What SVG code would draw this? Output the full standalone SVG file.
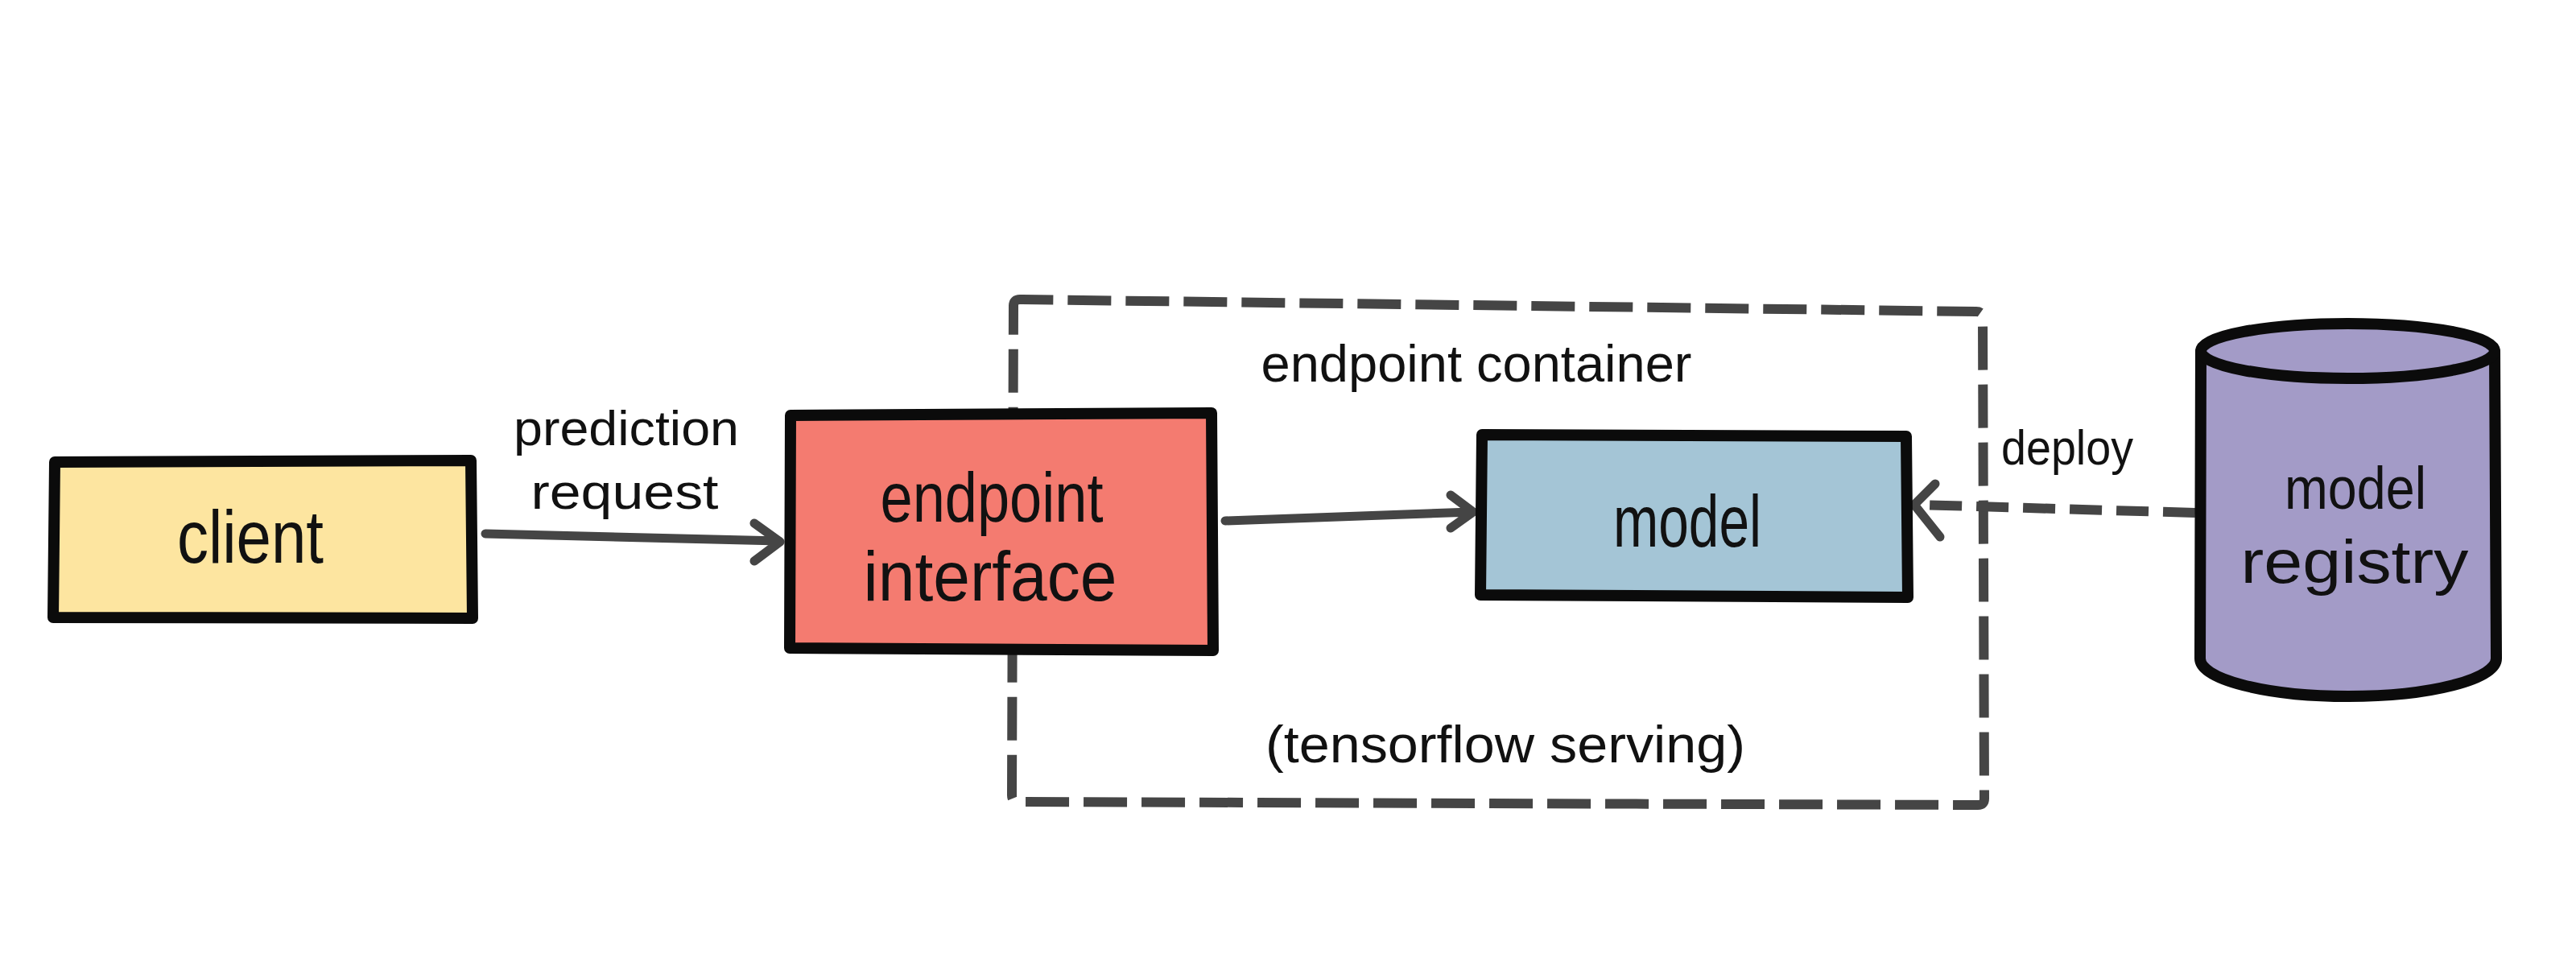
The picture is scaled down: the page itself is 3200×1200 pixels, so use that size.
<svg xmlns="http://www.w3.org/2000/svg" width="3200" height="1200" viewBox="0 0 3200 1200">
<style>
.box{stroke:#0b0b0b;stroke-width:14;stroke-linejoin:round}
.lbl{font-family:"Liberation Sans","DejaVu Sans",sans-serif;fill:#111;text-anchor:middle}
.conn{fill:none;stroke:#454545;stroke-width:11;stroke-linecap:round;stroke-linejoin:round}
.dash{fill:none;stroke:#454545;stroke-width:12}
</style>
<rect width="3200" height="1200" fill="#ffffff"/>
<g id="container">
<path class="dash" d="M1259,380 Q1259,372 1267,372 L2455,387 Q2463,387 2463,395 L2465,992 Q2465,1000 2457,1000 L1265,996 Q1257,996 1257,988 Z" stroke-dasharray="54 18"/>
<text class="lbl" x="1834" y="474" font-size="64" textLength="535" lengthAdjust="spacingAndGlyphs">endpoint container</text>
<text class="lbl" x="1870" y="947" font-size="64" textLength="596" lengthAdjust="spacingAndGlyphs">(tensorflow serving)</text>
</g>
<g id="connectors">
<path class="conn" d="M603,663 L968,672 M937,650 L969,673 L937,697"/>
<text class="lbl" x="778" y="553" font-size="62" textLength="280" lengthAdjust="spacingAndGlyphs">prediction</text>
<text class="lbl" x="776" y="632" font-size="62" textLength="233" lengthAdjust="spacingAndGlyphs">request</text>
<path class="conn" d="M1522,647 L1828,636 M1802,615 L1830,636 L1802,656"/>
<path class="dash" d="M2727,637 L2382,627" stroke-dasharray="40 18"/>
<path class="conn" d="M2404,601 L2378,627 L2410,667"/>
<text class="lbl" x="2568" y="577" font-size="62" textLength="164" lengthAdjust="spacingAndGlyphs">deploy</text>
</g>
<g id="client">
<path class="box" fill="#FDE5A0" d="M68,574 L585,572 L587,768 L66,767 Z"/>
<text class="lbl" x="311" y="699" font-size="92" textLength="182" lengthAdjust="spacingAndGlyphs">client</text>
</g>
<g id="endpoint-interface">
<path class="box" fill="#F47B70" d="M982,516 L1505,513 L1507,808 L981,805 Z"/>
<text class="lbl" x="1232" y="648" font-size="88" textLength="277" lengthAdjust="spacingAndGlyphs">endpoint</text>
<text class="lbl" x="1230" y="746" font-size="88" textLength="315" lengthAdjust="spacingAndGlyphs">interface</text>
</g>
<g id="model">
<path class="box" fill="#A4C5D6" d="M1841,540 L2368,542 L2370,742 L1839,739 Z"/>
<text class="lbl" x="2096" y="679" font-size="90" textLength="184" lengthAdjust="spacingAndGlyphs">model</text>
</g>
<g id="model-registry">
<path class="box" fill="#A39BC7" d="M2734,436 L2733,818 A184,47 0 0 0 3101,818 L3099,436 Z"/>
<ellipse class="box" fill="#A39BC7" cx="2916.5" cy="436" rx="182.5" ry="34"/>
<text class="lbl" x="2926" y="632" font-size="74" textLength="176" lengthAdjust="spacingAndGlyphs">model</text>
<text class="lbl" x="2925" y="724" font-size="76" textLength="283" lengthAdjust="spacingAndGlyphs">registry</text>
</g>
</svg>
